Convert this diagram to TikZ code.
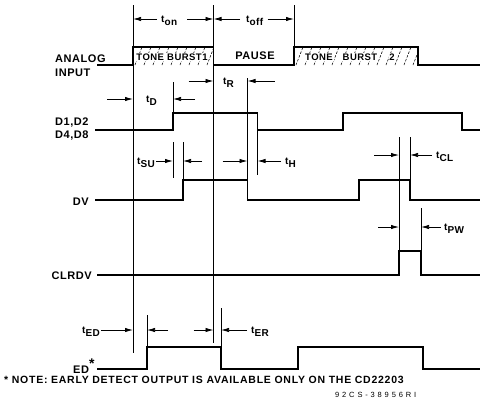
\documentclass[tikz,border=0pt]{standalone}
\usepackage{fontspec}
\setmainfont{Liberation Sans}
\newfontfamily\sigfont[LetterSpace=5]{Liberation Sans}
\newfontfamily\notefont[LetterSpace=7]{Liberation Sans}
\newfontfamily\idfont[LetterSpace=38]{Liberation Sans}
\usetikzlibrary{arrows.meta,positioning}

% time label: t with a lowered suffix
\newcommand{\tsub}[1]{t\raisebox{-0.55ex}[0pt][0pt]{#1}}

\begin{document}
\begin{tikzpicture}[
        x=1pt, y=-1pt,
        wave/.style={line width=1.5pt, line join=miter},
        guide/.style={line width=0.75pt},
        dimarrow/.style={-{Latex[length=8pt, width=4.4pt]}, line width=0.75pt},
        siglabel/.style={font=\sigfont\bfseries\fontsize{11}{12}\selectfont, inner sep=0pt},
        tlabel/.style={font=\sigfont\bfseries\fontsize{10}{11}\selectfont, inner sep=0pt, anchor=west},
        boxtext/.style={font=\sigfont\bfseries\fontsize{9.5}{10}\selectfont, fill=white, inner sep=0.7pt},
        hatch/.style={line width=0.55pt, dash pattern=on 2.5pt off 1.5pt},
    ]
    \useasboundingbox (0,0) rectangle (482,405);

    % Edge positions
    \coordinate (on1)    at (133,5);
    \coordinate (off1)   at (213.5,5);
    \coordinate (on2)    at (294,5);
    \coordinate (dup)    at (173,82);
    \coordinate (sup1)   at (173,142);
    \coordinate (dvup)   at (183,142);
    \coordinate (dvdn)   at (247.5,78);
    \coordinate (ddn)    at (257.5,130);
    \coordinate (clr)    at (399,137);
    \coordinate (dvclr)  at (410,137);
    \coordinate (clrend) at (421,208);
    \coordinate (edup)   at (147,315);
    \coordinate (eddn)   at (221,308);

    % Hatching of the tone bursts
    \begin{scope}
        \clip (133,47) rectangle (213.5,65);
        \foreach \x in {126,135,...,216}
            \draw[hatch] (\x,65) -- ++(7,-18);
    \end{scope}
    \begin{scope}
        \clip (294,47) rectangle (418,65);
        \foreach \x in {287,296,...,420}
            \draw[hatch] (\x,65) -- ++(7,-18);
    \end{scope}

    % Guide lines
    \draw[guide] (on1) -- ++(0,348);
    \draw[guide] (off1) -- ++(0,338);
    \draw[guide] (on2) -- ++(0,42);
    \draw[guide] (dup) -- ++(0,31);
    \draw[guide] (sup1) -- ++(0,36);
    \draw[guide] (dvup) -- ++(0,38);
    \draw[guide] (dvdn) -- ++(0,102);
    \draw[guide] (ddn) -- ++(0,45);
    \draw[guide] (clr) -- ++(0,114);
    \draw[guide] (dvclr) -- ++(0,43);
    \draw[guide] (clrend) -- ++(0,43);
    \draw[guide] (edup) -- ++(0,32);
    \draw[guide] (eddn) -- ++(0,39);

    % Waveforms
    \draw[wave] (97,65) -- (133,65) |- (213.5,47) |- (294,65) |- (418,47) |- (480,65);
    \draw[wave] (95,130) -- (173,130) |- (257.5,113) |- (343,130) |- (462,113) |- (480,130);
    \draw[wave] (95,200) -- (183,200) |- (247.5,180) |- (359,200) |- (410,180) |- (480,200);
    \draw[wave] (97,275) -- (399,275) |- (421,251) |- (480,275);
    \draw[wave] (97,369) -- (147,369) |- (221,347) |- (298,369) |- (423,347) |- (480,369);

    % Texts in the analog input
    \node[boxtext] (burst1) at (172,57) {TONE BURST1};
    \node[siglabel] (pause) at (255,56) {PAUSE};
    \node[boxtext] (tone2) at (319,57) {TONE};
    \node[boxtext] (burst2) at (360,57) {BURST};
    \node[boxtext] (two2) at (392,57) {2};

    % Signal names
    \node[siglabel, anchor=base west] (analog) at (55,62.5) {ANALOG};
    \node[siglabel, anchor=base west] (input) at (55,76) {INPUT};
    \node[siglabel, anchor=base west] (d12) at (55,125.5) {D1,D2};
    \node[siglabel, anchor=base west] (d48) at (55,138) {D4,D8};
    \node[siglabel, anchor=base east] (dv) at (89,205) {DV};
    \node[siglabel, anchor=base east] (clrdv) at (92,279) {CLRDV};
    \node[siglabel, anchor=base west] (ed) at (73,373) {ED\raisebox{0.7ex}{\fontsize{14}{14}\selectfont *}};

    % Timing labels
    \node[tlabel] (ton)  at (161,19) {\tsub{on}};
    \node[tlabel] (toff) at (246,19) {\tsub{off}};
    \node[tlabel] (tD)   at (146,99) {\tsub{D}};
    \node[tlabel] (tR)   at (223,81) {\tsub{R}};
    \node[tlabel] (tSU)  at (137,161) {\tsub{SU}};
    \node[tlabel] (tH)   at (285,161) {\tsub{H}};
    \node[tlabel] (tCL)  at (436,155) {\tsub{CL}};
    \node[tlabel] (tPW)  at (444,227) {\tsub{PW}};
    \node[tlabel] (tED)  at (82,330) {\tsub{ED}};
    \node[tlabel] (tER)  at (251,330) {\tsub{ER}};

    % Timing arrows
    \draw[dimarrow] ([xshift=-4pt]ton.west) -- (ton.west -| on1);
    \draw[dimarrow] ([xshift=10pt]ton.east) -- (ton.east -| off1);
    \draw[dimarrow] ([xshift=-6pt]toff.west) -- (toff.west -| off1);
    \draw[dimarrow] ([xshift=4pt]toff.east) -- (toff.east -| on2);
    \draw[dimarrow] (tD.west -| on1) ++(-26,0) -- (tD.west -| on1);
    \draw[dimarrow] (tD.west -| dup) ++(22,0) -- (tD.west -| dup);
    \draw[dimarrow] (tR.west -| off1) ++(-25,0) -- (tR.west -| off1);
    \draw[dimarrow] (tR.west -| dvdn) ++(27,0) -- (tR.west -| dvdn);
    \draw[dimarrow] ([xshift=1pt]tSU.east) -- (tSU.east -| sup1);
    \draw[dimarrow] (tSU.west -| dvup) ++(19,0) -- (tSU.west -| dvup);
    \draw[dimarrow] (tH.west -| dvdn) ++(-25,0) -- (tH.west -| dvdn);
    \draw[dimarrow] ([xshift=-4pt]tH.west) -- (tH.west -| ddn);
    \draw[dimarrow] (tCL.west -| clr) ++(-25,0) -- (tCL.west -| clr);
    \draw[dimarrow] ([xshift=-4pt]tCL.west) -- (tCL.west -| dvclr);
    \draw[dimarrow] (tPW.west -| clr) ++(-21,0) -- (tPW.west -| clr);
    \draw[dimarrow] ([xshift=-3pt]tPW.west) -- (tPW.west -| clrend);
    \draw[dimarrow] ([xshift=1pt]tED.east) -- (tED.east -| on1);
    \draw[dimarrow] (tED.west -| edup) ++(21,0) -- (tED.west -| edup);
    \draw[dimarrow] (tER.west -| off1) ++(-20,0) -- (tER.west -| off1);
    \draw[dimarrow] ([xshift=-4pt]tER.west) -- (tER.west -| eddn);

    % Footnote and drawing number
    \node[anchor=west, inner sep=0pt, font=\notefont\bfseries\fontsize{10.5}{12}\selectfont] (note) at (4,380) {* NOTE: EARLY DETECT OUTPUT IS AVAILABLE ONLY ON THE CD22203};
    \node[anchor=west, inner sep=0pt, font=\idfont\fontsize{7.5}{8}\selectfont] (dwg) at (335,395) {92CS-38956RI};
\end{tikzpicture}
\end{document}
